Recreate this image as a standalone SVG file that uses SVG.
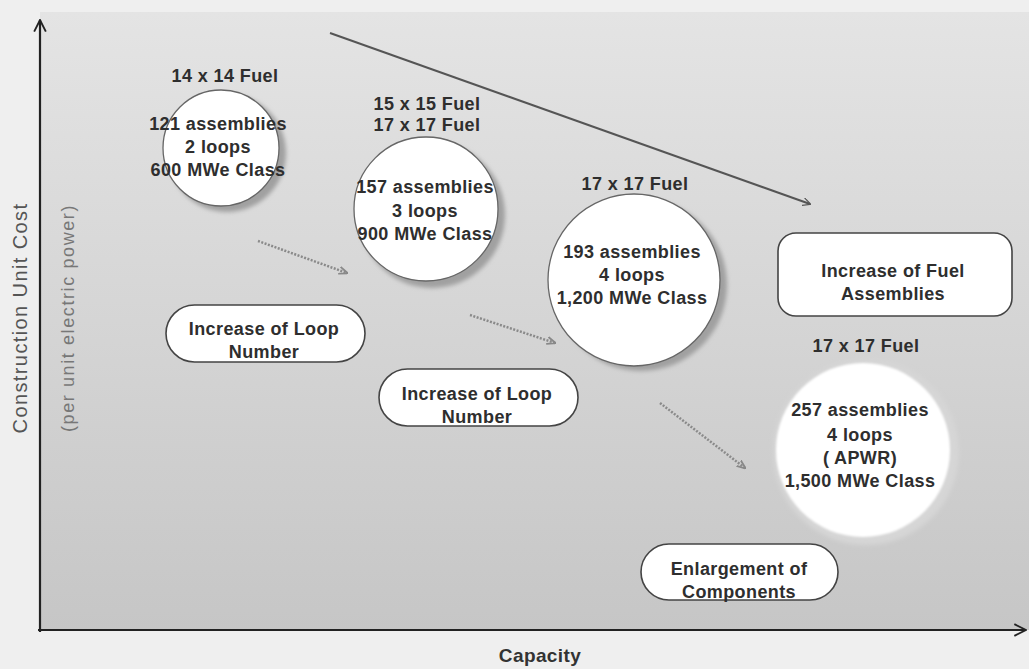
<svg xmlns="http://www.w3.org/2000/svg" width="1029" height="669" viewBox="0 0 1029 669">
<defs>
<linearGradient id="bg" x1="0" y1="0" x2="0" y2="1">
<stop offset="0" stop-color="#e4e4e4"/>
<stop offset="1" stop-color="#c6c6c6"/>
</linearGradient>
<filter id="blur" x="-20%" y="-20%" width="140%" height="140%"><feGaussianBlur stdDeviation="2"/></filter>
<filter id="soft" x="-20%" y="-20%" width="140%" height="140%"><feGaussianBlur stdDeviation="1.2"/></filter>
<marker id="ah" viewBox="0 0 10 10" refX="9" refY="5" markerWidth="8" markerHeight="8" markerUnits="userSpaceOnUse" orient="auto"><path d="M0,0 L10,5 L0,10" fill="none" stroke="#555" stroke-width="1.5"/></marker>
<marker id="ahg" viewBox="0 0 10 10" refX="9" refY="5" markerWidth="9" markerHeight="9" markerUnits="userSpaceOnUse" orient="auto"><path d="M0,1 L10,5 L0,9" fill="none" stroke="#888" stroke-width="2"/></marker>
<marker id="axis" viewBox="0 0 12 12" refX="11" refY="6" markerWidth="14" markerHeight="14" markerUnits="userSpaceOnUse" orient="auto"><path d="M1,1 L11,6 L1,11" fill="none" stroke="#222" stroke-width="1.6"/></marker>
</defs>
<style>
.t{font-family:"Liberation Sans",Arial,sans-serif;font-weight:bold;font-size:18px;fill:#2e2e2e;text-anchor:middle;letter-spacing:0.4px}
.box{fill:#ffffff;stroke:#444;stroke-width:1.6}
.circ{fill:#ffffff;stroke:#666;stroke-width:1.3}
.sh{fill:#a0a0a0;filter:url(#blur)}
.dot{fill:none;stroke:#8a8a8a;stroke-width:2.5;stroke-dasharray:2 1.5}
.ax{font-family:"Liberation Sans",Arial,sans-serif;font-size:20px;fill:#555;text-anchor:middle}
</style>
<rect x="0" y="0" width="1029" height="669" fill="#efefef"/>
<rect x="40" y="12" width="989" height="618" fill="url(#bg)"/>

<g id="connectors">
<line x1="330" y1="33" x2="810" y2="204" stroke="#555" stroke-width="2" marker-end="url(#ah)"/>
<line class="dot" x1="258" y1="241" x2="347" y2="273" marker-end="url(#ahg)"/>
<line class="dot" x1="470" y1="315" x2="555" y2="343" marker-end="url(#ahg)"/>
<line class="dot" x1="660" y1="403" x2="745" y2="468" marker-end="url(#ahg)"/>
</g>

<g id="axes">
<line x1="40" y1="632" x2="40" y2="20" stroke="#222" stroke-width="2.2" marker-end="url(#axis)"/>
<line x1="38" y1="630" x2="1026" y2="630" stroke="#222" stroke-width="2.2" marker-end="url(#axis)"/>
<text class="t" x="540" y="662" style="font-size:19px;fill:#333">Capacity</text>
<text class="ax" transform="translate(27,318) rotate(-90)" style="letter-spacing:1.4px">Construction Unit Cost</text>
<text class="ax" transform="translate(74,318) rotate(-90)" style="font-size:18px;fill:#777;letter-spacing:1.6px">(per unit electric power)</text>
</g>

<g id="node1">
<circle class="sh" cx="227" cy="153" r="59"/>
<circle class="circ" cx="221" cy="148" r="58"/>
<text class="t" x="225" y="82">14 x 14 Fuel</text>
<text class="t" x="218" y="130">121 assemblies</text>
<text class="t" x="218" y="153">2 loops</text>
<text class="t" x="218" y="176">600 MWe Class</text>
</g>

<g id="node2">
<circle class="sh" cx="432" cy="215" r="73"/>
<circle class="circ" cx="426" cy="209" r="72"/>
<text class="t" x="427" y="110">15 x 15 Fuel</text>
<text class="t" x="427" y="131">17 x 17 Fuel</text>
<text class="t" x="425" y="193">157 assemblies</text>
<text class="t" x="425" y="217">3 loops</text>
<text class="t" x="425" y="240">900 MWe Class</text>
</g>

<g id="node3">
<circle class="sh" cx="641" cy="285" r="86"/>
<circle class="circ" cx="634" cy="280" r="86"/>
<text class="t" x="635" y="190">17 x 17 Fuel</text>
<text class="t" x="632" y="258">193 assemblies</text>
<text class="t" x="632" y="281">4 loops</text>
<text class="t" x="632" y="304">1,200 MWe Class</text>
</g>

<g id="node4">
<circle cx="866" cy="452" r="93" fill="#d6d6d6" filter="url(#blur)"/>
<circle cx="863" cy="450" r="87" fill="#ffffff" filter="url(#soft)"/>
<text class="t" x="866" y="352">17 x 17 Fuel</text>
<text class="t" x="860" y="416">257 assemblies</text>
<text class="t" x="860" y="441">4 loops</text>
<text class="t" x="860" y="464">( APWR)</text>
<text class="t" x="860" y="487">1,500 MWe Class</text>
</g>

<g id="box1">
<rect class="box" x="166" y="305" width="199" height="57" rx="28.5"/>
<text class="t" x="264" y="335">Increase of Loop</text>
<text class="t" x="264" y="358">Number</text>
</g>

<g id="box2">
<rect class="box" x="379" y="369" width="199" height="57" rx="28.5"/>
<text class="t" x="477" y="400">Increase of Loop</text>
<text class="t" x="477" y="423">Number</text>
</g>

<g id="box3">
<rect class="box" x="778" y="233" width="234" height="83" rx="18"/>
<text class="t" x="893" y="277">Increase of Fuel</text>
<text class="t" x="893" y="300">Assemblies</text>
</g>

<g id="box4">
<rect class="box" x="641" y="544" width="197" height="56" rx="28"/>
<text class="t" x="739" y="575">Enlargement of</text>
<text class="t" x="739" y="598">Components</text>
</g>
</svg>
